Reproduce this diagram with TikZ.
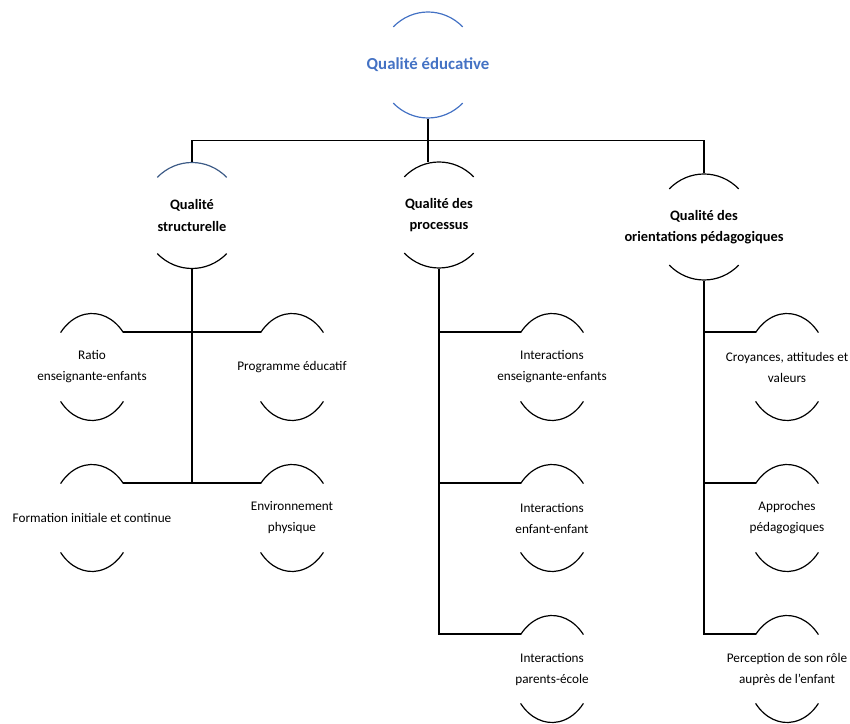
\documentclass[tikz,border=0pt]{standalone}
\usepackage{fontspec}
\setmainfont{Carlito}
\usepackage{tikz}

\definecolor{titleblue}{RGB}{68,114,196}
\definecolor{capblue}{RGB}{62,92,135}

\begin{document}
\begin{tikzpicture}[
    x=1pt, y=1pt, line width=1.2pt,
    goal/.style={font=\bfseries\fontsize{16.8}{20}\selectfont, text=titleblue,
        minimum height=106pt, inner sep=0pt},
    dim/.style={font=\bfseries\fontsize{14.4}{21.5}\selectfont, align=center,
        minimum height=106pt, inner sep=0pt},
    facet/.style={font=\fontsize{13.2}{21}\selectfont, align=center,
        minimum height=68.8pt, inner sep=0pt}
]
    \useasboundingbox (0,0) rectangle (850,723);

    \node[goal] (edu) at (428,658) {Qualité éducative};

    \node[dim] (struc)  at (192,507.5) {Qualité\\structurelle};
    \node[dim] (proc)   at (439,508)   {Qualité des\\processus};
    \node[dim] (orient) at (704,496)   {Qualité des\\orientations pédagogiques};

    \node[facet] (ratio) at (92,356)  {Ratio\\enseignante-enfants};
    \node[facet] (prog)  at (292,356) {Programme éducatif};
    \node[facet] (form)  at (92,205)  {Formation initiale et continue};
    \node[facet] (env)   at (292,205) {Environnement\\physique};

    \node[facet] (inter1) at (552,356) {Interactions\\enseignante-enfants};
    \node[facet] (inter2) at (552,205) {Interactions\\enfant-enfant};
    \node[facet] (inter3) at (552,54)  {Interactions\\parents-école};

    \node[facet] (croy) at (787,356) {Croyances, attitudes et\\valeurs};
    \node[facet] (appr) at (787,205) {Approches\\pédagogiques};
    \node[facet] (perc) at (787,54)  {Perception de son rôle\\auprès de l’enfant};

    % arcs round the headings
    \draw[titleblue]
        ([shift={(46:50pt and 53pt)}]edu.center) arc[start angle=46, end angle=134, x radius=50pt, y radius=53pt]
        ([shift={(226:50pt and 53pt)}]edu.center) arc[start angle=226, end angle=314, x radius=50pt, y radius=53pt];
    \draw[capblue]
        ([shift={(46:50pt and 53pt)}]struc.center) arc[start angle=46, end angle=134, x radius=50pt, y radius=53pt];
    \draw
        ([shift={(226:50pt and 53pt)}]struc.center) arc[start angle=226, end angle=314, x radius=50pt, y radius=53pt];
    \foreach \n in {proc, orient}
        \draw ([shift={(46:50pt and 53pt)}]\n.center) arc[start angle=46, end angle=134, x radius=50pt, y radius=53pt]
              ([shift={(226:50pt and 53pt)}]\n.center) arc[start angle=226, end angle=314, x radius=50pt, y radius=53pt];

    % arcs round the facets
    \foreach \n in {ratio, prog, form, env, inter1, inter2, inter3, croy, appr, perc}
        \draw ([shift={(40:41pt and 53.5pt)}]\n.center) arc[start angle=40, end angle=140, x radius=41pt, y radius=53.5pt]
              ([shift={(220:41pt and 53.5pt)}]\n.center) arc[start angle=220, end angle=320, x radius=41pt, y radius=53.5pt];

    % tree
    \draw (edu.south) -- ([yshift=-1pt]edu.south |- proc.north);
    \draw (struc.north) |- ([yshift=-22pt]edu.south) -| (orient.north);

    \draw (struc.south) -- (struc.south |- form.north);
    \draw ([xshift=31.4pt]ratio.north) -- ([xshift=-31.4pt]prog.north);
    \draw ([xshift=31.4pt]form.north) -- ([xshift=-31.4pt]env.north);

    \draw (proc.south) |- ([xshift=-31.4pt]inter3.north);
    \draw (proc.south |- inter1.north) -- ([xshift=-31.4pt]inter1.north);
    \draw (proc.south |- inter2.north) -- ([xshift=-31.4pt]inter2.north);

    \draw (orient.south) |- ([xshift=-31.4pt]perc.north);
    \draw (orient.south |- croy.north) -- ([xshift=-31.4pt]croy.north);
    \draw (orient.south |- appr.north) -- ([xshift=-31.4pt]appr.north);
\end{tikzpicture}
\end{document}
